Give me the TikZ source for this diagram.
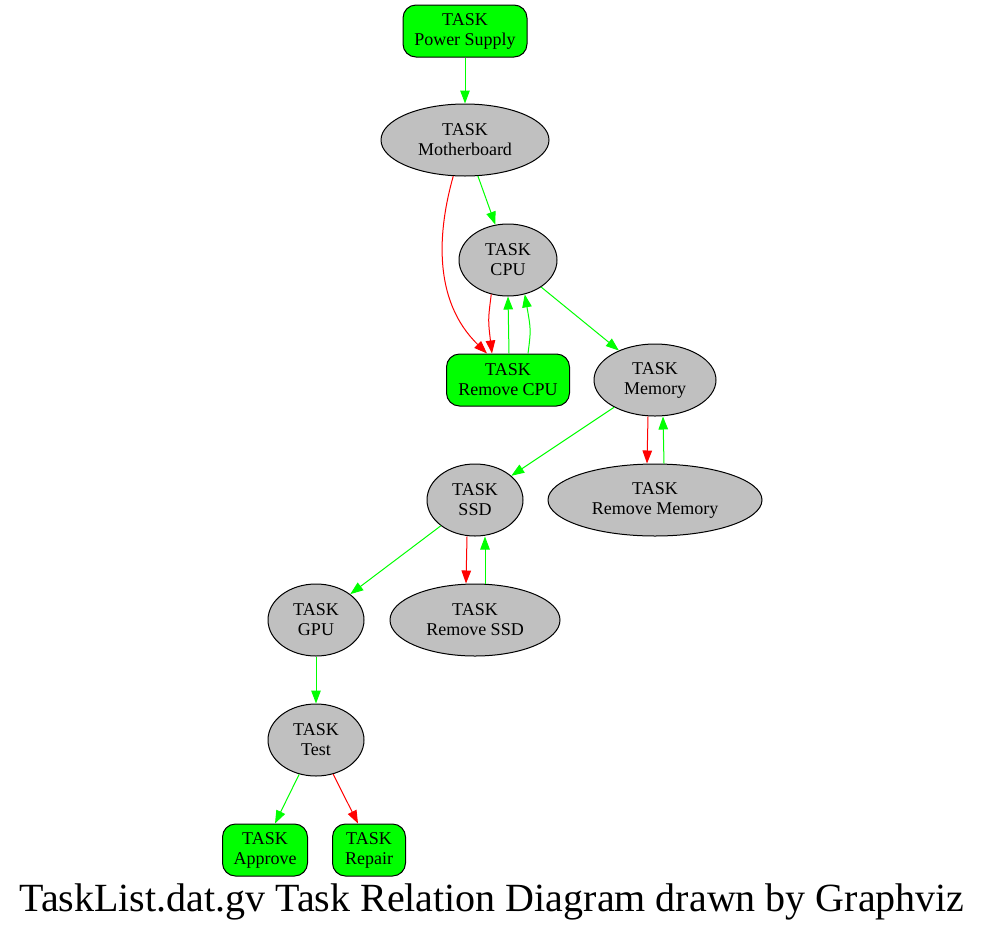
\documentclass[tikz,border=0pt]{standalone}
\usepackage{fontspec}
\setmainfont{Liberation Serif}
\usetikzlibrary{shapes.geometric,arrows.meta}
\definecolor{gvgreen}{HTML}{00FF00}
\definecolor{gvred}{HTML}{FF0000}
\definecolor{gvgray}{HTML}{C0C0C0}
\begin{document}
\begin{tikzpicture}[x=1pt,y=-1pt,
  every node/.style={font=\fontsize{18}{20}\selectfont, align=center, inner sep=0pt},
  task/.style={ellipse, draw=black, fill=gvgray, line width=1pt, minimum height=72pt},
  rtask/.style={rectangle, rounded corners=13pt, draw=black, fill=gvgreen, line width=1pt, minimum height=52pt},
  gv/.style={line width=1pt, -{Triangle[length=13pt,width=9.5pt]}},
  ok/.style={gv, draw=gvgreen},
  bad/.style={gv, draw=gvred}]
\useasboundingbox (0,0) rectangle (985,935);
\node[rtask, minimum width=124pt] (ps) at (465,31) {TASK\\Power Supply};
\node[task, minimum width=168pt] (mb) at (465,140) {TASK\\Motherboard};
\node[task, minimum width=98pt] (cpu) at (508,260) {TASK\\CPU};
\node[rtask, minimum width=123pt] (rcpu) at (508,380) {TASK\\Remove CPU};
\node[task, minimum width=122pt] (mem) at (655,380) {TASK\\Memory};
\node[task, minimum width=214pt] (rmem) at (655,500) {TASK\\Remove Memory};
\node[task, minimum width=96pt] (ssd) at (475,500) {TASK\\SSD};
\node[task, minimum width=170pt] (rssd) at (475,620) {TASK\\Remove SSD};
\node[task, minimum width=96pt] (gpu) at (316,620) {TASK\\GPU};
\node[task, minimum width=96pt] (test) at (316,740) {TASK\\Test};
\node[rtask, minimum width=85pt] (app) at (265,850) {TASK\\Approve};
\node[rtask, minimum width=73pt] (rep) at (369,850) {TASK\\Repair};
\node[font=\fontsize{40}{44}\selectfont] (title) at (492,902) {TaskList.dat.gv Task Relation Diagram drawn by Graphviz};

\draw[ok] (ps) -- (mb);
\draw[ok] (mb) -- (cpu);
\draw[bad] (mb.-108) .. controls (438,230) and (432,300) .. ([xshift=-21pt]rcpu.north);
\draw[bad] (cpu.-116) .. controls (488,320) .. ([xshift=-16pt]rcpu.north);
\draw[ok] ([xshift=1pt]rcpu.north) -- (cpu.south);
\draw[ok] ([xshift=20pt]rcpu.north) .. controls (531,330) .. (cpu.-64);
\draw[ok] (cpu) -- (mem);
\draw[bad] ([xshift=-7pt]mem.south) -- ([xshift=-8pt]rmem.north);
\draw[ok] ([xshift=9pt]rmem.north) -- ([xshift=8pt]mem.south);
\draw[ok] (mem) -- (ssd);
\draw[bad] ([xshift=-8pt]ssd.south) -- ([xshift=-9pt]rssd.north);
\draw[ok] ([xshift=10pt]rssd.north) -- ([xshift=10pt]ssd.south);
\draw[ok] (ssd) -- (gpu);
\draw[ok] (gpu) -- (test);
\draw[ok] (test) -- ([xshift=10pt]app.north);
\draw[bad] (test) -- ([xshift=-11pt]rep.north);
\end{tikzpicture}
\end{document}
